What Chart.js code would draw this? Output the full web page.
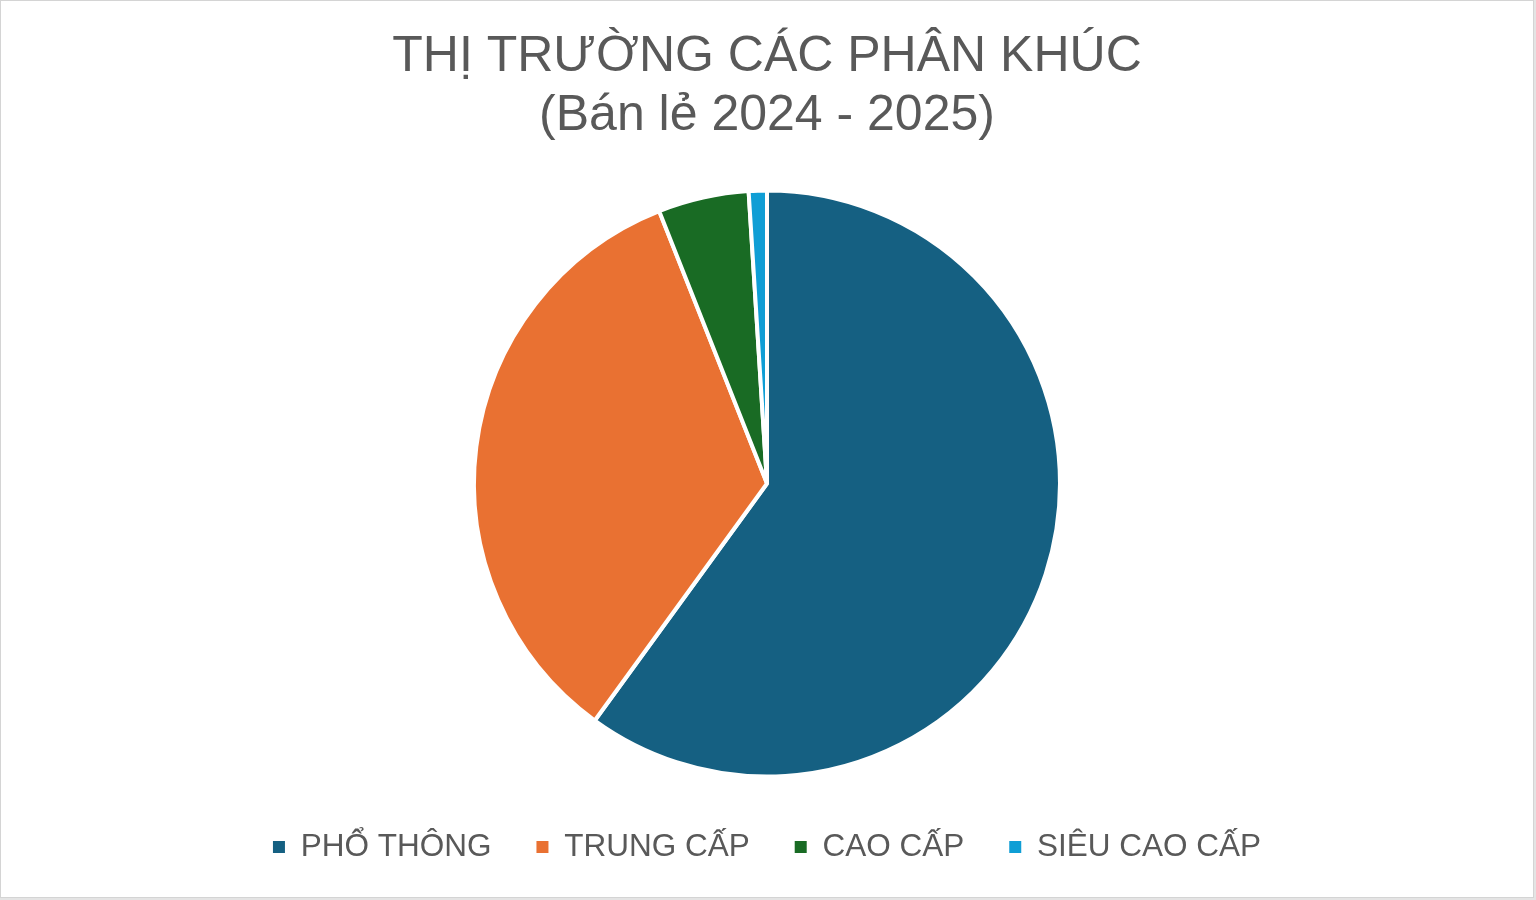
<!DOCTYPE html>
<html>
<head>
<meta charset="utf-8">
<script src="https://cdn.jsdelivr.net/npm/chart.js@4/dist/chart.umd.min.js"></script>
<style>
  html, body { margin: 0; padding: 0; background: #e4e4e4; }
  #box { position: absolute; left: 0; top: 0; width: 1534px; height: 898px; box-sizing: border-box;
         border: 1px solid #d4d4d4; background: #ffffff; }
  #c { position: absolute; left: 0; top: 0; }
</style>
</head>
<body>
<div id="box"><canvas id="c" width="1532" height="896"></canvas></div>
<script>
const titleLines = ["THỊ TRƯỜNG CÁC PHÂN KHÚC", "(Bán lẻ 2024 - 2025)"];
const categories = ["PHỔ THÔNG", "TRUNG CẤP", "CAO CẤP", "SIÊU CAO CẤP"];
const shareValues = [60, 34, 5, 1];
const sliceColors = ["#156082", "#E97132", "#196B24", "#0F9ED5"];

const FONT = "'Liberation Sans', Arial, Helvetica, sans-serif";
const baseGen = Chart.controllers.doughnut.overrides.plugins.legend.labels.generateLabels;

new Chart(document.getElementById("c"), {
  type: "pie",
  data: {
    labels: categories,
    datasets: [{
      data: shareValues,
      backgroundColor: sliceColors,
      borderColor: "#ffffff",
      borderWidth: 4,
      radius: 293
    }]
  },
  options: {
    responsive: false,
    devicePixelRatio: 1,
    animation: false,
    layout: { padding: { top: 0, bottom: 24.25, left: 0, right: 0 } },
    plugins: {
      tooltip: { enabled: false },
      title: {
        display: true,
        text: titleLines,
        color: "#595959",
        font: { family: FONT, size: 50, weight: "normal", lineHeight: 1.18 },
        padding: { top: 26.5, bottom: 35.25 }
      },
      legend: {
        display: true,
        position: "bottom",
        labels: {
          color: "#595959",
          font: { family: FONT, size: 31.5, weight: "normal" },
          boxWidth: 12,
          boxHeight: 12,
          padding: 45,
          generateLabels: function(chart) {
            return baseGen(chart).map(function(l) { l.lineWidth = 0; return l; });
          }
        }
      }
    }
  }
});
</script>
</body>
</html>
